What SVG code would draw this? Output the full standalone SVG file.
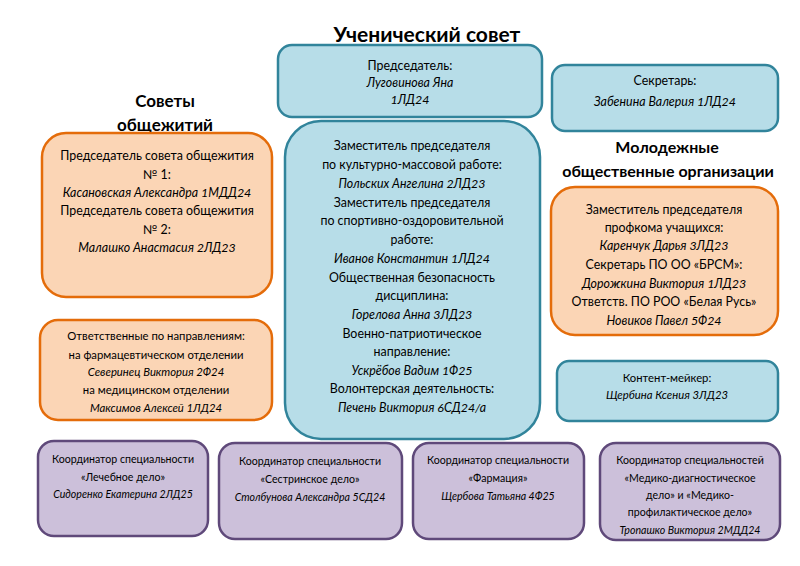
<svg xmlns="http://www.w3.org/2000/svg" width="800" height="566" viewBox="0 0 800 566">
<style>
text{font-family:Lato,"Noto Sans",sans-serif;text-anchor:middle;fill:#000}
.t{font-size:12.4px}
.m{font-size:11.3px}
.s{font-size:10.6px}
.i{font-style:italic}
.h{font-weight:bold}
.blue{fill:#b7dde8;stroke:#31849b;stroke-width:2.5}
.orange{fill:#fbd5b5;stroke:#e46c0a;stroke-width:2.5}
.purple{fill:#ccc0da;stroke:#5f497a;stroke-width:2.5}
</style>
<rect width="800" height="566" fill="#fff"/>
<text x="427" y="42" class="h" style="font-size:21px">Ученический совет</text>
<text x="165" y="107" class="h" style="font-size:17px">Советы</text>
<text x="165" y="131" class="h" style="font-size:17px">общежитий</text>
<text x="667" y="153" class="h" style="font-size:16px">Молодежные</text>
<text x="668" y="177" class="h" style="font-size:16px">общественные организации</text>
<g id="connectors"></g>
<g id="chair">
<rect x="278" y="45" width="264" height="72" rx="14" class="blue"/>
<text x="410" y="70" class="t">Председатель:</text>
<text x="410" y="87" class="t i">Луговинова Яна</text>
<text x="410" y="104" class="t i">1ЛД24</text>
</g>
<g id="secretary">
<rect x="552" y="65" width="226" height="66" rx="13" class="blue"/>
<text x="665" y="85" class="t">Секретарь:</text>
<text x="665" y="106" class="t i">Забенина Валерия 1ЛД24</text>
</g>
<g id="dorm">
<rect x="42" y="133" width="230" height="164" rx="24" class="orange"/>
<text x="157" y="160" class="t">Председатель совета общежития</text>
<text x="157" y="179" class="t">№ 1:</text>
<text x="157" y="197" class="t i">Касановская Александра 1МДД24</text>
<text x="157" y="215" class="t">Председатель совета общежития</text>
<text x="157" y="234" class="t">№ 2:</text>
<text x="157" y="252" class="t i">Малашко Анастасия 2ЛД23</text>
</g>
<g id="deputies">
<rect x="285" y="121" width="255" height="318" rx="36" class="blue"/>
<text x="412" y="150" class="t">Заместитель председателя</text>
<text x="412" y="169" class="t">по культурно-массовой работе:</text>
<text x="412" y="188" class="t i">Польских Ангелина 2ЛД23</text>
<text x="412" y="207" class="t">Заместитель председателя</text>
<text x="412" y="225" class="t">по спортивно-оздоровительной</text>
<text x="412" y="244" class="t">работе:</text>
<text x="412" y="263" class="t i">Иванов Константин 1ЛД24</text>
<text x="412" y="282" class="t">Общественная безопасность</text>
<text x="412" y="300" class="t">дисциплина:</text>
<text x="412" y="319" class="t i">Горелова Анна 3ЛД23</text>
<text x="412" y="338" class="t">Военно-патриотическое</text>
<text x="412" y="356" class="t">направление:</text>
<text x="412" y="375" class="t i">Ускрёбов Вадим 1Ф25</text>
<text x="412" y="393" class="t">Волонтерская деятельность:</text>
<text x="412" y="412" class="t i">Печень Виктория 6СД24/а</text>
</g>
<g id="youth">
<rect x="551" y="187" width="227" height="148" rx="24" class="orange"/>
<text x="664" y="214" class="t">Заместитель председателя</text>
<text x="664" y="232" class="t">профкома учащихся:</text>
<text x="664" y="250" class="t i">Каренчук Дарья 3ЛД23</text>
<text x="664" y="269" class="t">Секретарь ПО ОО «БРСМ»:</text>
<text x="664" y="288" class="t i">Дорожкина Виктория 1ЛД23</text>
<text x="664" y="306" class="t">Ответств. ПО РОО «Белая Русь»</text>
<text x="664" y="325" class="t i">Новиков Павел 5Ф24</text>
</g>
<g id="content">
<rect x="557" y="361" width="221" height="60" rx="12" class="blue"/>
<text x="667" y="382" class="m">Контент-мейкер:</text>
<text x="667" y="399" class="m i">Щербина Ксения 3ЛД23</text>
</g>
<g id="directions">
<rect x="40" y="320" width="232" height="100" rx="18" class="orange"/>
<text x="156" y="340" class="m">Ответственные по направлениям:</text>
<text x="156" y="359" class="m">на фармацевтическом отделении</text>
<text x="156" y="376" class="m i">Северинец Виктория 2Ф24</text>
<text x="156" y="394" class="m">на медицинском отделении</text>
<text x="156" y="412" class="m i">Максимов Алексей 1ЛД24</text>
</g>
<g id="coord1">
<rect x="38" y="441" width="170" height="95" rx="16" class="purple"/>
<text x="123" y="463" class="s">Координатор специальности</text>
<text x="123" y="481" class="s">«Лечебное дело»</text>
<text x="123" y="498" class="s i">Сидоренко Екатерина 2ЛД25</text>
</g>
<g id="coord2">
<rect x="219" y="443" width="183" height="96" rx="16" class="purple"/>
<text x="310" y="465" class="s">Координатор специальности</text>
<text x="310" y="483" class="s">«Сестринское дело»</text>
<text x="310" y="501" class="s i">Столбунова Александра 5СД24</text>
</g>
<g id="coord3">
<rect x="413" y="443" width="171" height="96" rx="16" class="purple"/>
<text x="498" y="464" class="s">Координатор специальности</text>
<text x="498" y="482" class="s">«Фармация»</text>
<text x="498" y="500" class="s i">Щербова Татьяна 4Ф25</text>
</g>
<g id="coord4">
<rect x="600" y="443" width="180" height="97" rx="16" class="purple"/>
<text x="690" y="464" class="s">Координатор специальностей</text>
<text x="690" y="482" class="s">«Медико-диагностическое</text>
<text x="690" y="499" class="s">дело» и «Медико-</text>
<text x="690" y="516" class="s">профилактическое дело»</text>
<text x="690" y="534" class="s i">Тропашко Виктория 2МДД24</text>
</g>
</svg>
